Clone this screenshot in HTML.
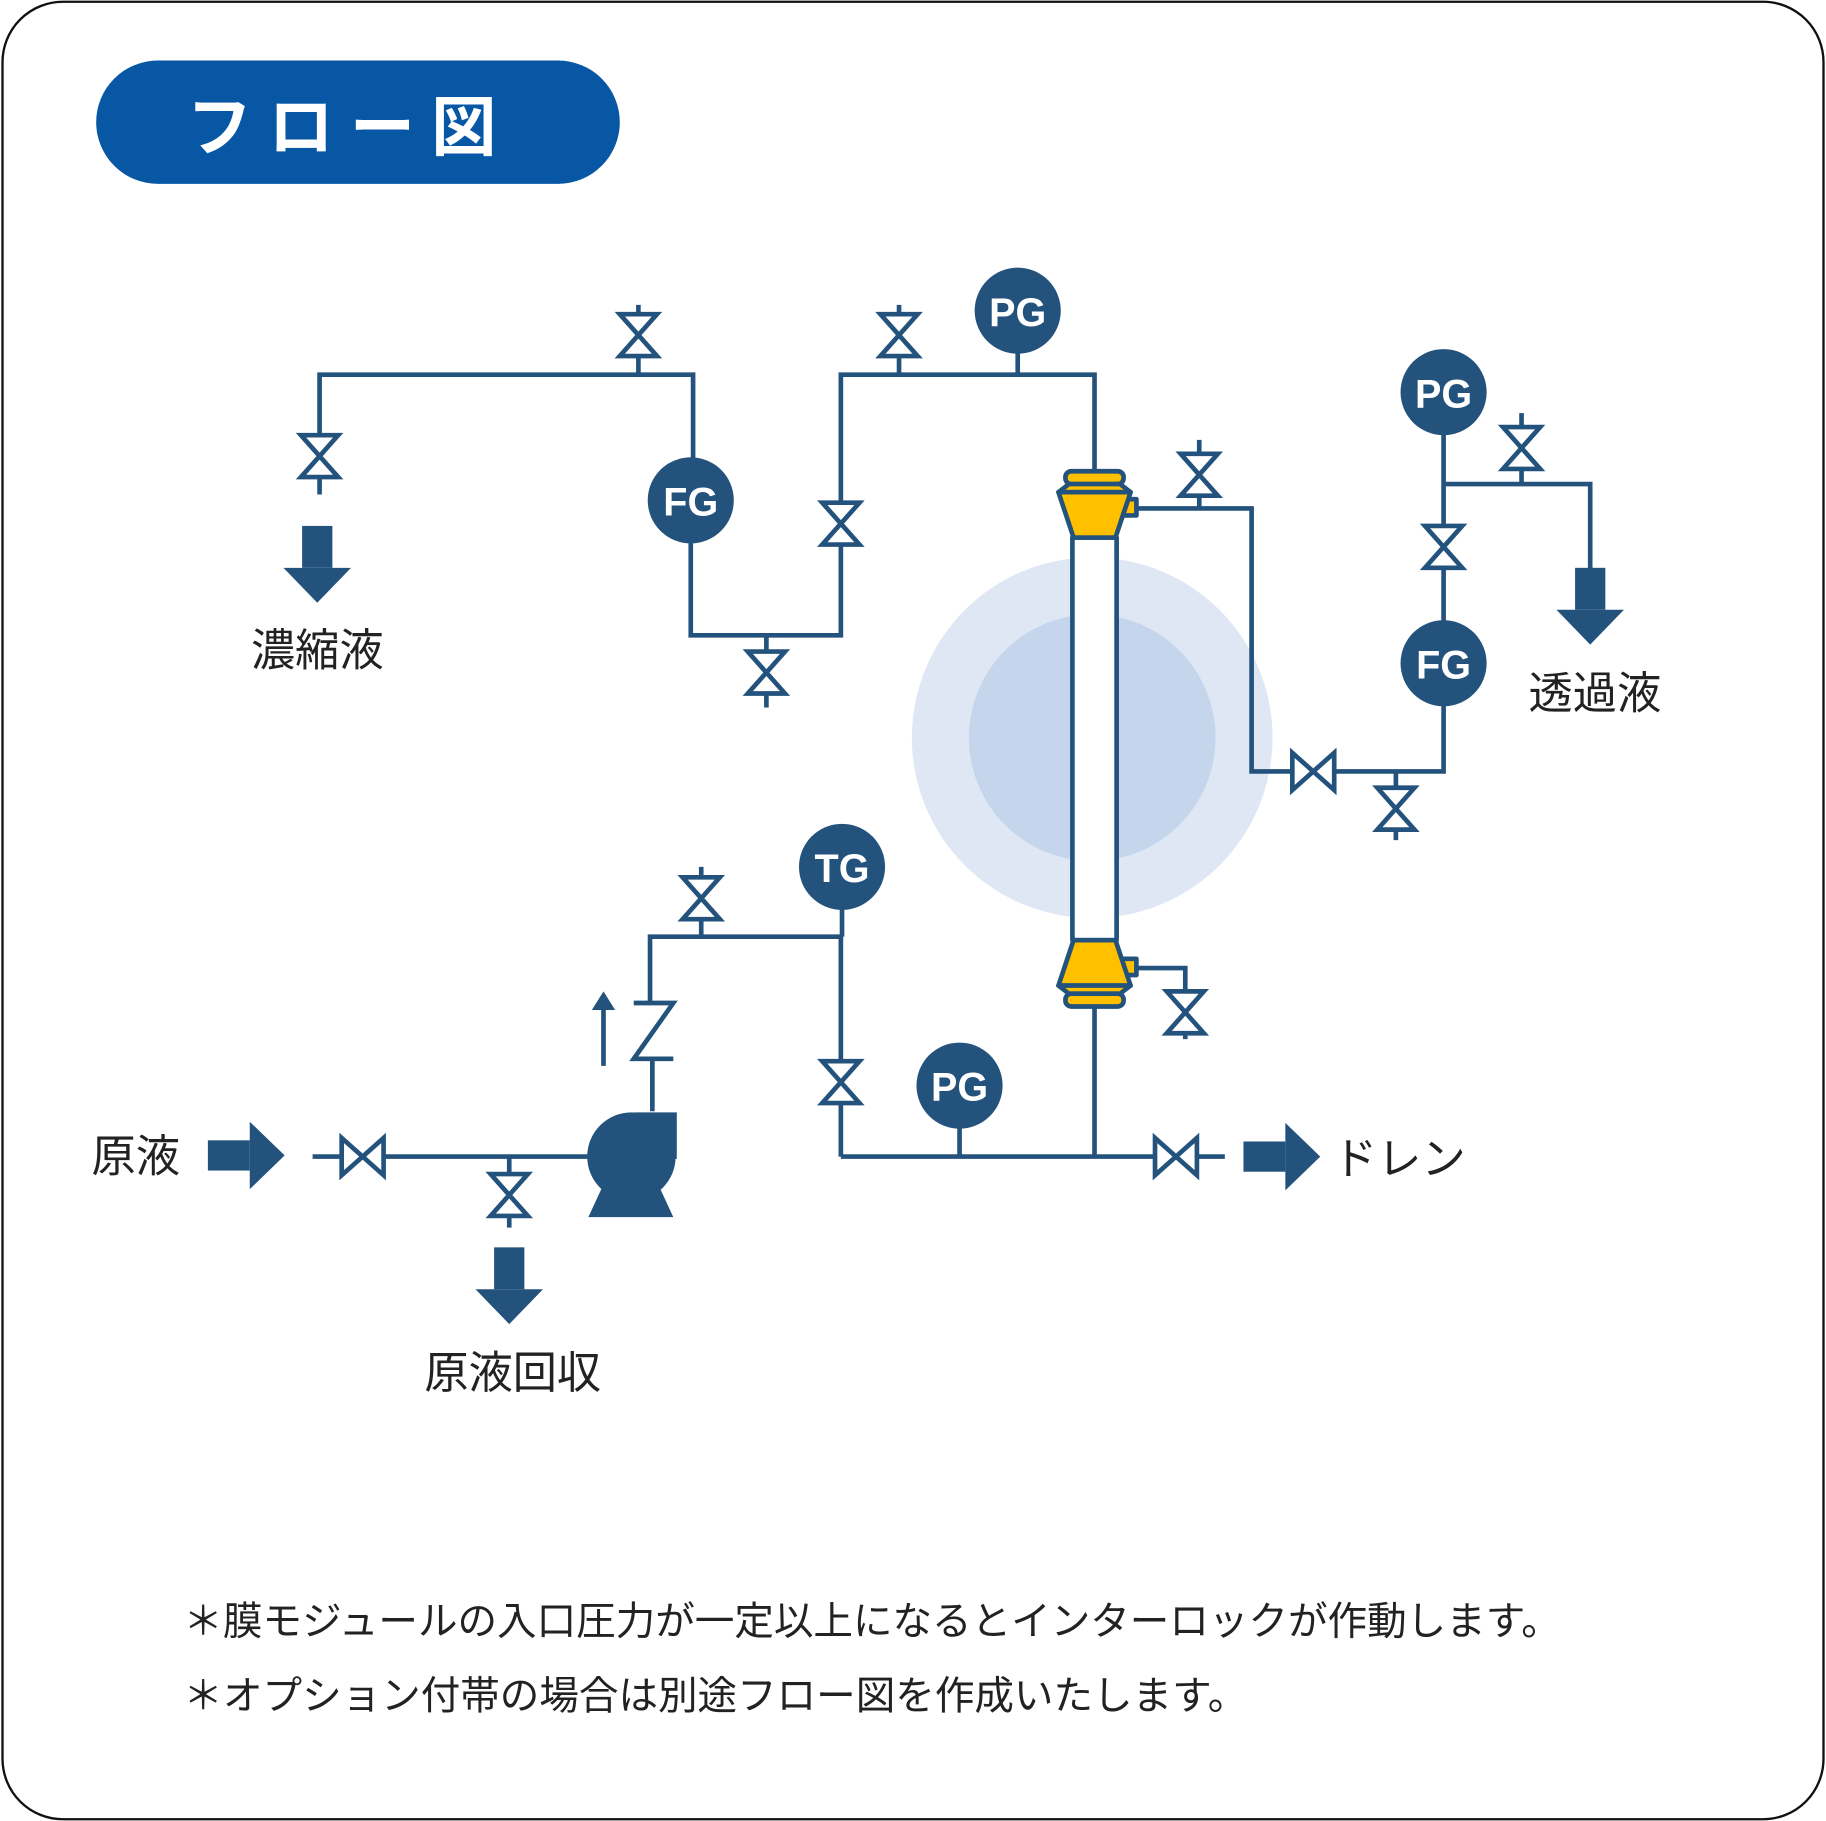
<!DOCTYPE html>
<html><head><meta charset="utf-8"><style>
html,body{margin:0;padding:0;background:#fff}
svg{display:block}
text{font-family:"Liberation Sans","Noto Sans CJK JP",sans-serif}
</style></head><body>
<svg width="1826" height="1821" viewBox="0 0 1568 1565" xmlns="http://www.w3.org/2000/svg">
<defs>
<g id="vv"><polygon points="-16,-18 16,-18 -16,18 16,18" fill="#fff" stroke="#23527c" stroke-width="4" stroke-linejoin="miter"/></g>
<g id="ad"><rect x="-13" y="0" width="26" height="36" fill="#23527c"/><polygon points="-29,36 29,36 0,66" fill="#23527c"/></g>
</defs>
<rect x="1.5" y="1.5" width="1565" height="1562" rx="52" fill="#fff" stroke="#111" stroke-width="2"/>
<rect x="82" y="52" width="450" height="106" rx="53" fill="#0757a5"/>
<text x="300" y="129" font-size="56" font-weight="bold" fill="#fff" text-anchor="middle" letter-spacing="14">フロー図</text>

<circle cx="938" cy="634" r="155" fill="#e0e7f4"/>
<circle cx="938" cy="634" r="106" fill="#c5d5ec"/>

<g fill="none" stroke="#23527c" stroke-width="4">
<path d="M274,425 V322 H595 V430"/>
<path d="M548,322 V262"/>
<path d="M593,430 V546 H722 V322 H940 V410"/>
<path d="M658,546 V608"/>
<path d="M772,322 V262"/>
<path d="M874,267 V322"/>
<path d="M975,437 H1075 V663 H1240 V337"/>
<path d="M1030,437 V378"/>
<path d="M1199,663 V722"/>
<path d="M1240,416 H1366 V490"/>
<path d="M1307,416 V355"/>
<path d="M975,832 H1018 V893"/>
<path d="M940,860 V994"/>
<path d="M722,994 H1052"/>
<path d="M824,933 V994"/>
<path d="M722,994 V805 H558 V862"/>
<path d="M602,805 V745"/>
<path d="M723,745 V805"/>
<path d="M560,910 V955"/>
<path d="M268,994 H505"/>
<path d="M437,994 V1055"/>
<path d="M544,862 H578 L544,910 H578"/>
</g>

<use href="#vv" x="274" y="392"/>
<use href="#vv" x="548" y="288"/>
<use href="#vv" x="658" y="578"/>
<use href="#vv" x="722" y="450"/>
<use href="#vv" x="772" y="288"/>
<use href="#vv" x="1030" y="408"/>
<use href="#vv" x="1199" y="695"/>
<use href="#vv" x="1240" y="470"/>
<use href="#vv" x="1307" y="385"/>
<use href="#vv" x="1018" y="870"/>
<use href="#vv" x="722" y="930"/>
<use href="#vv" x="602" y="772"/>
<use href="#vv" x="437" y="1027"/>
<use href="#vv" transform="translate(1128,663) rotate(90)"/>
<use href="#vv" transform="translate(1010,994) rotate(90)"/>
<use href="#vv" transform="translate(311,994) rotate(90)"/>

<g stroke="#23527c" stroke-width="4" stroke-linejoin="round">
<rect x="962" y="429" width="14" height="14" fill="#ffc000"/>
<rect x="962" y="824" width="14" height="14" fill="#ffc000"/>
<rect x="921" y="462" width="38" height="346" fill="#fff"/>
<rect x="915" y="405" width="50" height="11" rx="5" fill="#ffc000"/>
<polygon points="918,416 962,416 971,423 909,423" fill="#ffc000"/>
<polygon points="909,423 971,423 958,462 922,462" fill="#ffc000"/>
<polygon points="922,808 958,808 971,847 909,847" fill="#ffc000"/>
<polygon points="909,847 971,847 962,854 918,854" fill="#ffc000"/>
<rect x="915" y="854" width="50" height="11" rx="5" fill="#ffc000"/>
</g>

<g fill="#23527c">
<circle cx="874" cy="267" r="37"/><circle cx="593" cy="430" r="37"/>
<circle cx="1240" cy="337" r="37"/><circle cx="1240" cy="570" r="37"/>
<circle cx="723" cy="745" r="37"/><circle cx="824" cy="933" r="37"/>
</g>
<g fill="#fff" font-size="34" font-weight="bold" text-anchor="middle">
<text x="874" y="280">PG</text><text x="593" y="443">FG</text>
<text x="1240" y="350">PG</text><text x="1240" y="583">FG</text>
<text x="723" y="758">TG</text><text x="824" y="946">PG</text>
</g>

<g fill="#23527c">
<circle cx="542" cy="994" r="38"/>
<rect x="545" y="956" width="36" height="40"/>
<polygon points="505,1046 578,1046 566,1020 517,1020"/>
</g>
<path d="M518,916 V862" stroke="#23527c" stroke-width="4"/>
<polygon points="508,868 518,852 528,868" fill="#23527c"/>

<use href="#ad" x="272" y="452"/>
<use href="#ad" x="1366" y="488"/>
<use href="#ad" x="437" y="1072"/>
<use href="#ad" transform="translate(178,993) rotate(-90)"/>
<use href="#ad" transform="translate(1068,994) rotate(-90)"/>

<g fill="#222" font-size="38">
<text x="272" y="572" text-anchor="middle">濃縮液</text>
<text x="1370" y="609" text-anchor="middle">透過液</text>
<text x="116" y="1007" text-anchor="middle">原液</text>
<text x="440" y="1193" text-anchor="middle">原液回収</text>
<text x="1145" y="1009">ドレン</text>
</g>
<g fill="#222" font-size="34">
<text x="157" y="1405">＊膜モジュールの入口圧力が一定以上になるとインターロックが作動します。</text>
<text x="157" y="1469">＊オプション付帯の場合は別途フロー図を作成いたします。</text>
</g>
</svg>
</body></html>
